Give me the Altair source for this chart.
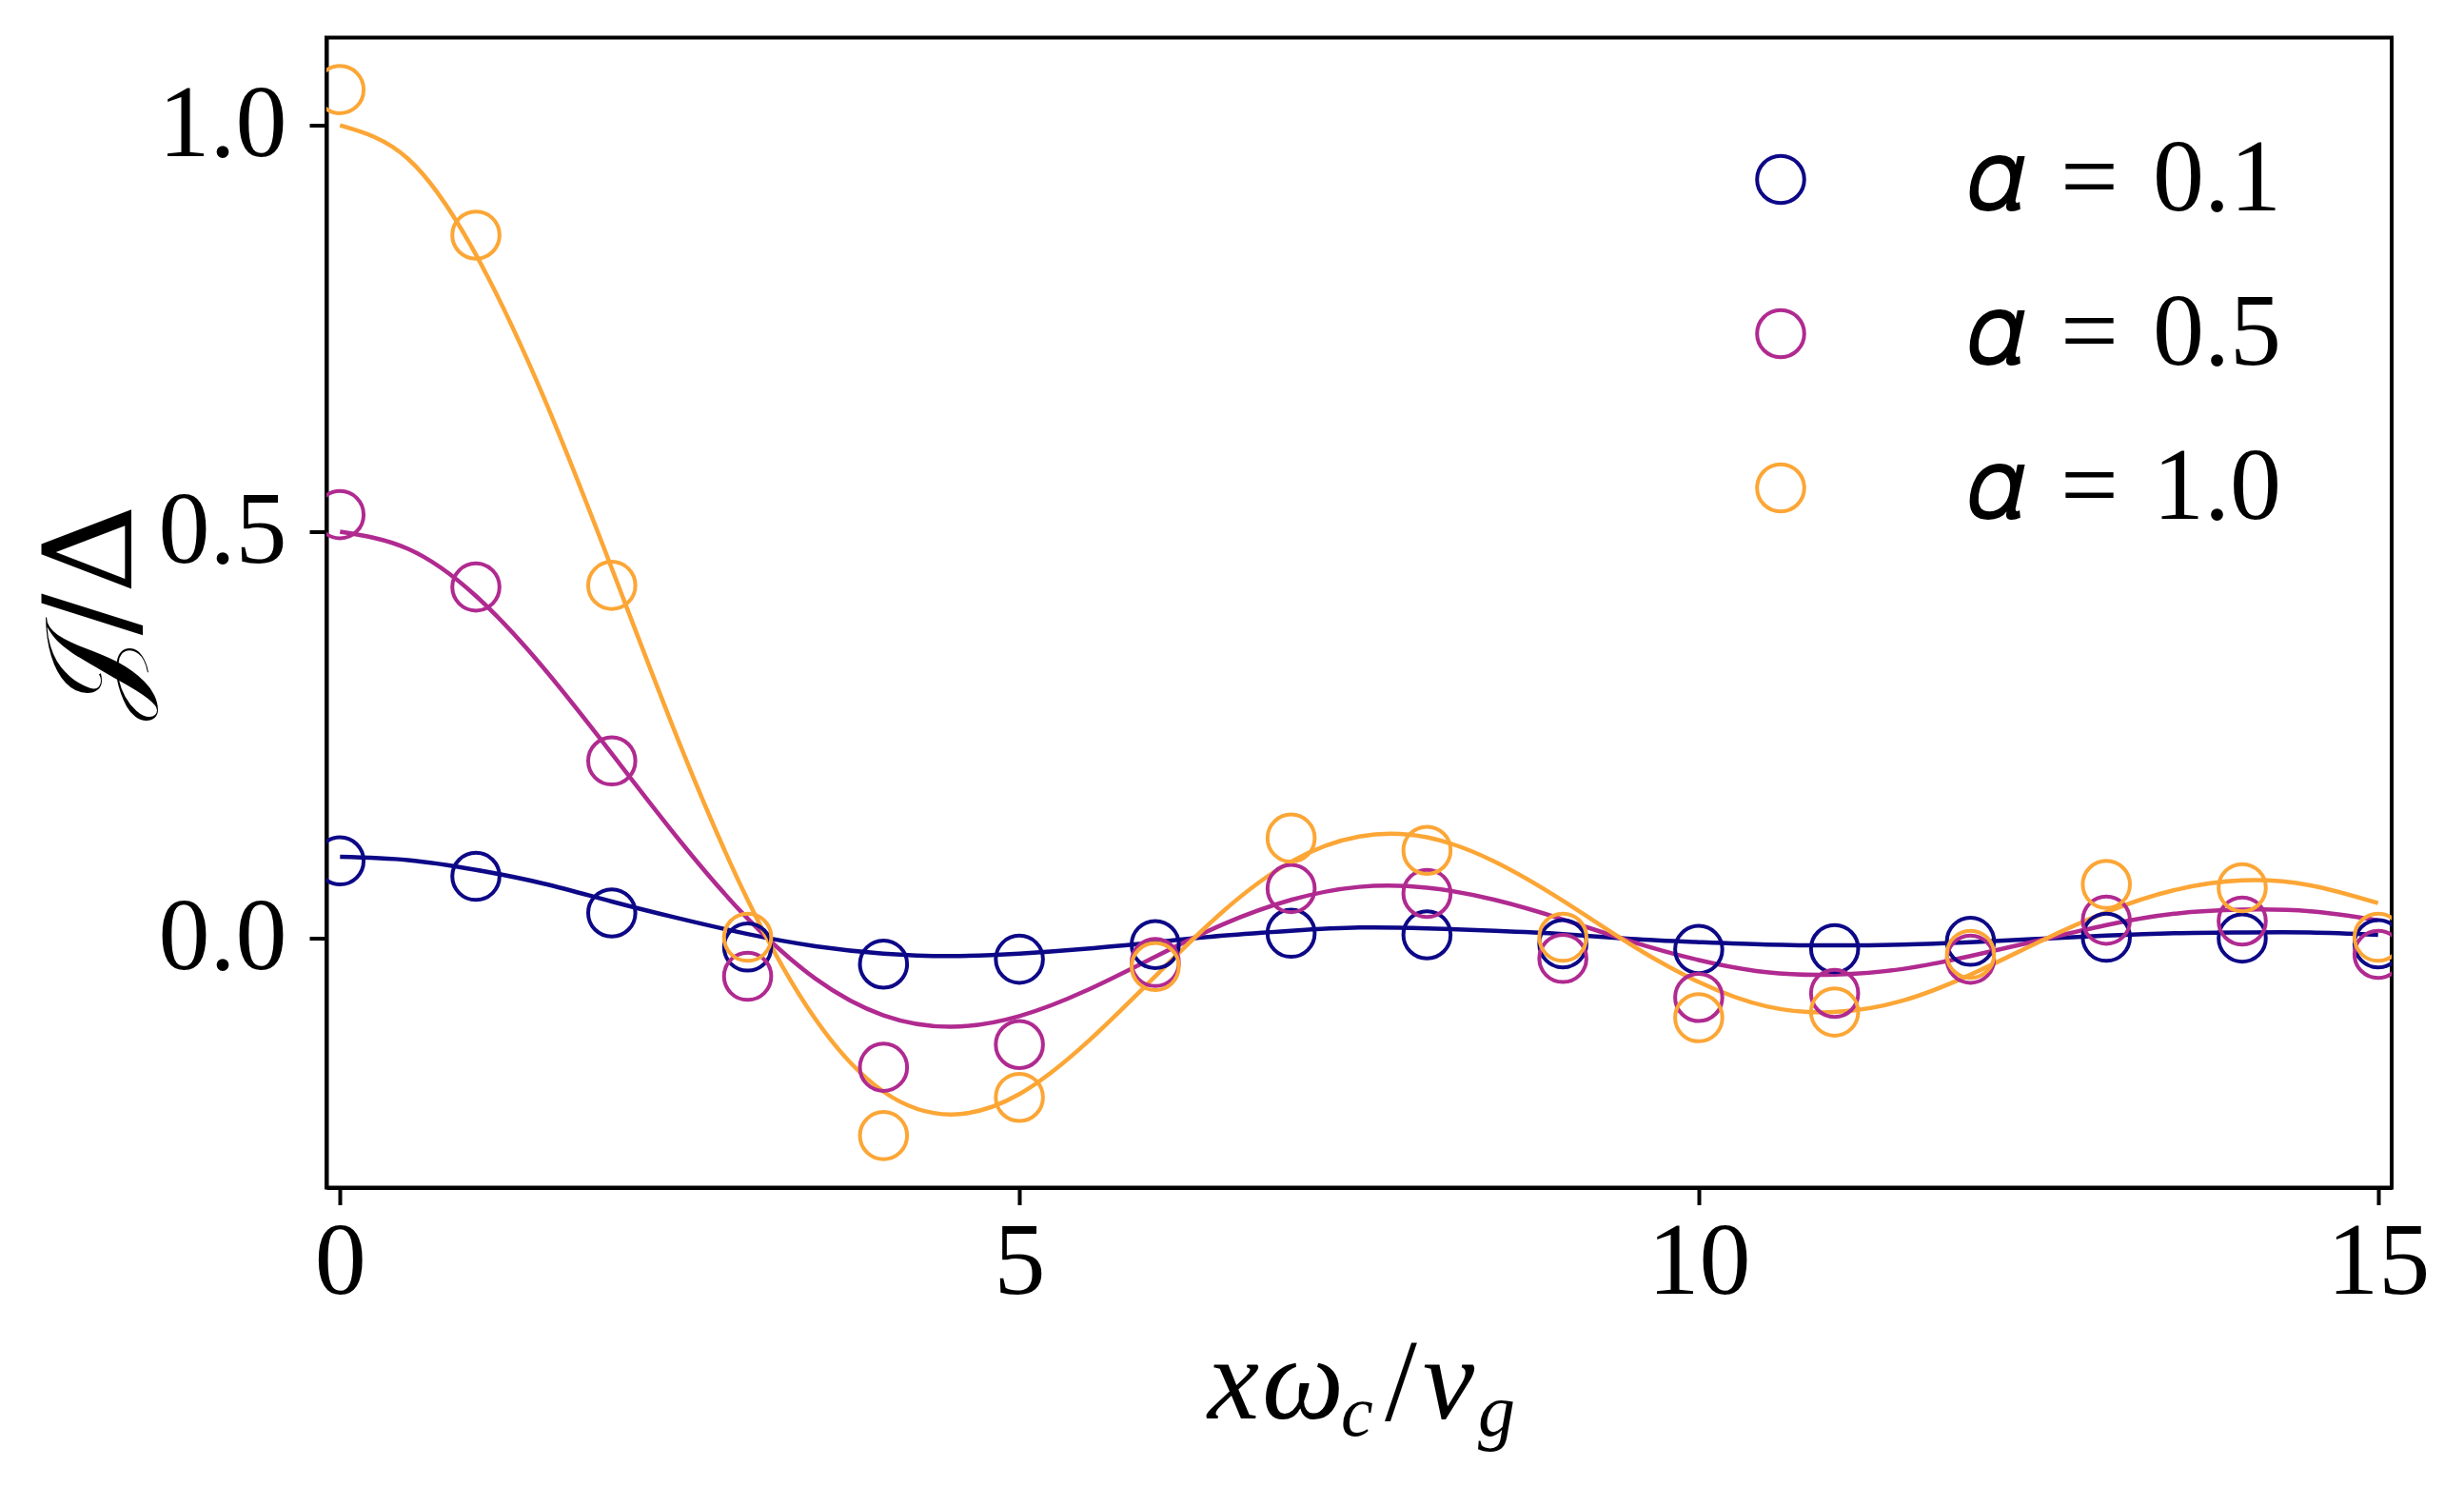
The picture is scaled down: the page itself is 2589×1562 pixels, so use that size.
import altair as alt
import pandas as pd

# ---- data ----
series_names = ["𝛼\u2004=\u20040.1", "𝛼\u2004=\u20040.5", "𝛼\u2004=\u20041.0"]
series_colors = ["#0d0887", "#b02a90", "#fca636"]

# simulation points (integer x)
pt_x = list(range(16))
pt_blue = [0.095, 0.076, 0.031, -0.011, -0.032, -0.026, -0.008, 0.006, 0.004,
           -0.007, -0.014, -0.013, -0.004, 0.001, 0.000, -0.007]
pt_purple = [0.521, 0.432, 0.218, -0.047, -0.159, -0.131, -0.030, 0.061, 0.055,
             -0.025, -0.073, -0.068, -0.026, 0.022, 0.021, -0.020]
pt_orange = [1.044, 0.865, 0.434, 0.001, -0.243, -0.196, -0.035, 0.123, 0.108,
             0.001, -0.098, -0.091, -0.020, 0.066, 0.062, 0.001]

# theory curves, read every 0.5
ln_x = [i * 0.5 for i in range(31)]
ln_orange = [1.000, 0.959, 0.841, 0.665, 0.455, 0.239, 0.047, -0.100, -0.189, -0.217,
             -0.192, -0.128, -0.047, 0.033, 0.094, 0.125, 0.124, 0.094, 0.046, -0.008,
             -0.054, -0.084, -0.091, -0.077, -0.045, -0.005, 0.032, 0.059, 0.071, 0.065,
             0.043]
ln_purple = [0.500, 0.479, 0.421, 0.332, 0.227, 0.120, 0.024, -0.050, -0.095, -0.109,
             -0.096, -0.064, -0.023, 0.017, 0.047, 0.063, 0.062, 0.047, 0.023, -0.004,
             -0.027, -0.042, -0.045, -0.038, -0.022, -0.003, 0.016, 0.030, 0.035, 0.033,
             0.022]
ln_blue = [0.100, 0.096, 0.084, 0.067, 0.045, 0.024, 0.005, -0.010, -0.019, -0.022,
           -0.019, -0.013, -0.005, 0.003, 0.009, 0.013, 0.012, 0.009, 0.005, -0.001,
           -0.005, -0.008, -0.009, -0.008, -0.005, -0.001, 0.003, 0.006, 0.007, 0.007,
           0.004]

x_ticks = [0, 5, 10, 15]
y_ticks = [0.0, 0.5, 1.0]
x_domain = [-0.1, 15.1]
y_domain = [-0.307, 1.108]

# ---- tables ----
pts = pd.concat([
    pd.DataFrame({"x": pt_x, "y": vals, "s": name, "o": i})
    for i, (name, vals) in enumerate(zip(series_names, [pt_blue, pt_purple, pt_orange]))
], ignore_index=True)

FONT = "Liberation Serif"
W, H = 2170, 1208

xs = alt.X("x:Q", scale=alt.Scale(domain=x_domain, nice=False, zero=False),
           axis=alt.Axis(values=x_ticks, format="d", title=None, grid=False,
                         tickSize=18, tickWidth=4, domainWidth=4, domainColor="black",
                         tickColor="black", labelFontSize=108, labelFont=FONT,
                         labelColor="black", labelPadding=8, labelFlush=False))
ys = alt.Y("y:Q", scale=alt.Scale(domain=y_domain, nice=False, zero=False),
           axis=alt.Axis(values=y_ticks, format=".1f", title=None, grid=False,
                         tickSize=18, tickWidth=4, domainWidth=4, domainColor="black",
                         tickColor="black", labelFontSize=108, labelFont=FONT,
                         labelColor="black", labelPadding=24, labelFlush=False))

line_layers = [
    alt.Chart(pd.DataFrame({"x": ln_x, "y": vals})).mark_line(
        strokeWidth=4.5, interpolate="natural", clip=True, color=col).encode(x=xs, y=ys)
    for vals, col in zip([ln_blue, ln_purple, ln_orange], series_colors)
]

points = alt.Chart(pts).mark_point(shape="circle", filled=False, size=2460, strokeWidth=4,
                                   opacity=1, clip=True).encode(
    x=xs, y=ys,
    color=alt.Color("s:N", scale=alt.Scale(domain=series_names, range=series_colors),
                    sort=series_names,
                    legend=alt.Legend(title=None, orient="none", legendX=1474, legendY=95,
                                      symbolType="circle", symbolSize=2460,
                                      symbolStrokeWidth=4, symbolOpacity=1,
                                      labelFontSize=108,
                                      labelFont="Liberation Serif, DejaVu Serif",
                                      labelColor="black",
                                      labelOffset=142, rowPadding=54, labelLimit=1000)),
    order="o:Q")

one = pd.DataFrame({"k": [0]})
ytitle = alt.Chart(one).mark_text(text="𝒥/Δ", angle=270, fontSize=130, font="DejaVu Serif",
                                  align="center", baseline="middle", color="black").encode(
    x=alt.value(-244), y=alt.value(604))

xparts = [("x", 926, 1450, 122, "italic"), ("ω", 983, 1450, 122, "italic"),
          ("c", 1066, 1468, 76, "italic"), ("/", 1112, 1452, 122, "normal"),
          ("v", 1152, 1450, 122, "italic"), ("g", 1210, 1468, 78, "italic")]
xtitle_layers = [
    alt.Chart(one).mark_text(text=t, fontSize=fs, font=FONT, fontStyle=st, align="left",
                             baseline="alphabetic", color="black").encode(
        x=alt.value(px), y=alt.value(py))
    for t, px, py, fs, st in xparts
]

chart = alt.layer(*line_layers, points, ytitle, *xtitle_layers).properties(
    width=W, height=H,
    autosize=alt.AutoSizeParams(type="none"),
    padding={"left": 335, "top": 31.5, "right": 60, "bottom": 300},
    background="white",
).configure_view(stroke="black", strokeWidth=4)

chart.save("out.html", embed_options={"renderer": "svg", "actions": False})
